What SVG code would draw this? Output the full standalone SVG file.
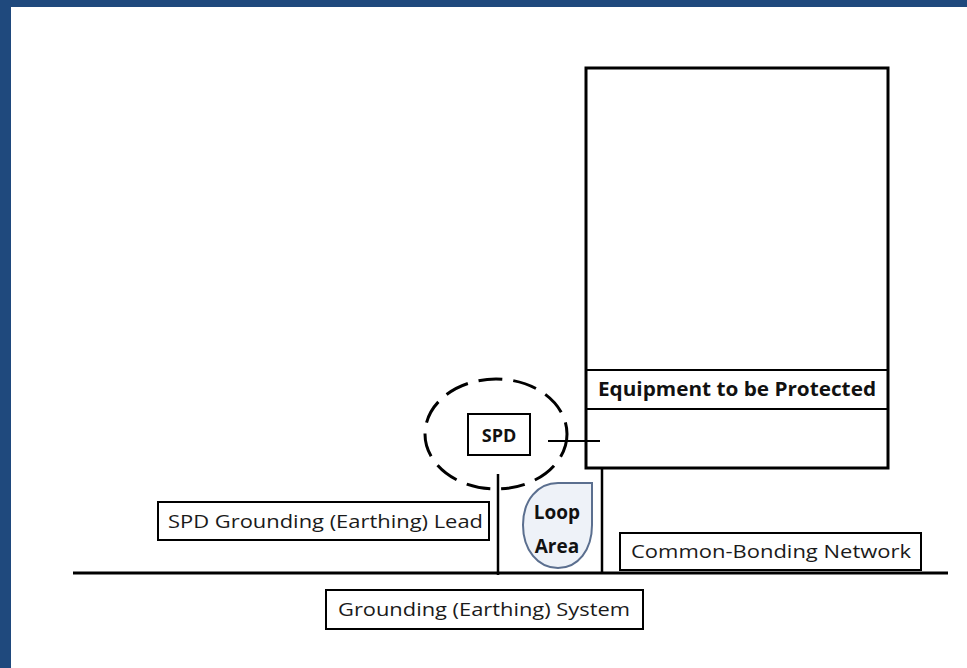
<svg xmlns="http://www.w3.org/2000/svg" width="967" height="668" viewBox="0 0 967 668">
<style>
.box{fill:#fff;stroke:#000;stroke-width:2}
.ln{stroke:#000;stroke-width:2.5;fill:none}
.t{font-family:"Open Sans","Liberation Sans",sans-serif;font-size:19px;fill:#1a1a1a}
.b{font-family:"Open Sans","Liberation Sans",sans-serif;font-size:19px;font-weight:bold;fill:#111}
</style>
<rect x="0" y="0" width="967" height="668" fill="#fff"/>
<rect x="0" y="0" width="967" height="7" fill="#1F497D"/>
<rect x="0" y="0" width="11" height="668" fill="#1F497D"/>
<g id="equipment">
<rect x="586" y="68" width="302" height="400" fill="#fff" stroke="#000" stroke-width="3"/>
<line x1="586" y1="370" x2="888" y2="370" stroke="#000" stroke-width="2"/>
<line x1="586" y1="409" x2="888" y2="409" stroke="#000" stroke-width="2"/>
<text class="b" x="737" y="396" text-anchor="middle" textLength="278" lengthAdjust="spacingAndGlyphs">Equipment to be Protected</text>
</g>
<g id="connectors">
<line class="ln" x1="73" y1="573" x2="948" y2="573" style="stroke-width:3"/>
<line class="ln" x1="498" y1="474" x2="498" y2="575"/>
<line class="ln" x1="602" y1="469" x2="602" y2="573"/>
<line class="ln" x1="548" y1="441" x2="600" y2="441" style="stroke-width:2"/>
</g>
<g id="spd-zone">
<ellipse cx="496" cy="434" rx="71" ry="55" fill="none" stroke="#000" stroke-width="3" stroke-dasharray="24 11"/>
</g>
<g id="spd">
<rect class="box" x="468" y="414" width="62" height="41"/>
<text class="b" x="499" y="442" text-anchor="middle" style="font-size:18px">SPD</text>
</g>
<g id="loop-area">
<path d="M592,483 L592,525 C592,550 578,568 558,568 C538,568 523,550 523,525 C523,500 538,483 558,483 Z" fill="#eef2f8" stroke="#5b6f8f" stroke-width="2"/>
<text class="b" x="557" y="519" text-anchor="middle" style="font-size:19px">Loop</text>
<text class="b" x="557" y="553" text-anchor="middle" style="font-size:19px">Area</text>
</g>
<g id="spd-lead-label">
<rect class="box" x="158" y="502" width="331" height="38"/>
<text class="t" x="168" y="528" textLength="315" lengthAdjust="spacingAndGlyphs">SPD Grounding (Earthing) Lead</text>
</g>
<g id="cbn-label">
<rect class="box" x="620" y="533" width="301" height="37"/>
<text class="t" x="631" y="558" textLength="280" lengthAdjust="spacingAndGlyphs">Common-Bonding Network</text>
</g>
<g id="grounding-system-label">
<rect class="box" x="326" y="590" width="317" height="39"/>
<text class="t" x="338" y="616" textLength="292" lengthAdjust="spacingAndGlyphs">Grounding (Earthing) System</text>
</g>
</svg>
